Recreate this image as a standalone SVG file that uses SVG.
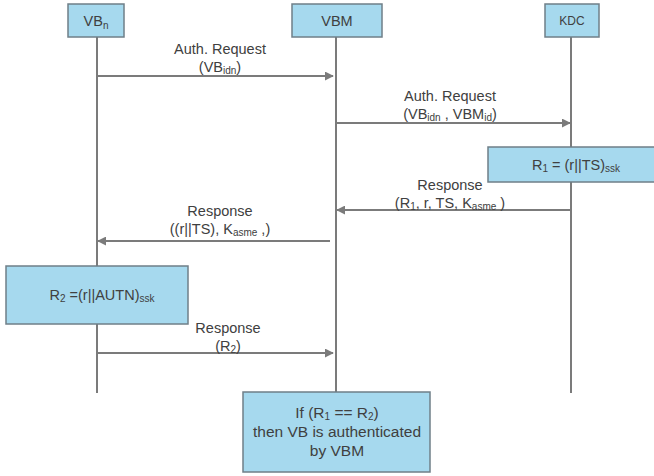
<svg xmlns="http://www.w3.org/2000/svg" width="654" height="476" viewBox="0 0 654 476">
<defs>
<style>
.box{fill:#a6d9ee;stroke:#6f7f88;stroke-width:1.5}
.life{stroke:#7b7b7b;stroke-width:2;fill:none}
.msg{stroke:#7b7b7b;stroke-width:2;fill:none;marker-end:url(#ah)}
text{font-family:"Liberation Sans",Arial,sans-serif;fill:#404040;text-anchor:middle}
.lbl{font-size:14.5px}
.big{font-size:15.5px}
.sub{font-size:10px}
</style>
<marker id="ah" viewBox="0 0 10 10" refX="9" refY="5" markerWidth="4.5" markerHeight="4.5" orient="auto" markerUnits="strokeWidth">
<path d="M0,0 L10,5 L0,10 z" fill="#7b7b7b"/>
</marker>
</defs>
<rect width="654" height="476" fill="#ffffff"/>
<g id="lifelines">
<line class="life" x1="97" y1="37" x2="97" y2="393"/>
<line class="life" x1="336" y1="37" x2="336" y2="393"/>
<line class="life" x1="571" y1="37" x2="571" y2="393"/>
</g>
<g id="node-vbn">
<rect class="box" x="68" y="4" width="56" height="33"/>
<text class="lbl" x="96" y="26" font-size="15">VB<tspan class="sub" dy="3">n</tspan></text>
</g>
<g id="node-vbm">
<rect class="box" x="292" y="4" width="90" height="33"/>
<text class="lbl" x="337" y="26">VBM</text>
</g>
<g id="node-kdc">
<rect class="box" x="545" y="4" width="54" height="33"/>
<text x="572" y="25" font-size="12">KDC</text>
</g>
<g id="connectors">
<line class="msg" x1="97" y1="76" x2="333" y2="76"/>
<line class="msg" x1="336" y1="123" x2="570" y2="123"/>
<line class="msg" x1="570" y1="210" x2="337" y2="210"/>
<line class="msg" x1="330" y1="241" x2="98" y2="241"/>
<line class="msg" x1="98" y1="353" x2="333" y2="353"/>
</g>
<g id="labels">
<text class="lbl" x="220" y="54">Auth. Request</text>
<text class="lbl" x="220" y="72">(VB<tspan class="sub" dy="2">idn</tspan><tspan dy="-2">)</tspan></text>
<text class="lbl" x="450" y="101">Auth. Request</text>
<text class="lbl" x="450" y="119">(VB<tspan class="sub" dy="2">idn</tspan><tspan dy="-2"> , VBM</tspan><tspan class="sub" dy="2">id</tspan><tspan dy="-2">)</tspan></text>
<text class="lbl" x="450" y="190">Response</text>
<text class="lbl" x="450" y="208">(R<tspan class="sub" dy="2">1</tspan><tspan dy="-2">, r, TS,  K</tspan><tspan class="sub" dy="2">asme</tspan><tspan dy="-2"> )</tspan></text>
<text class="lbl" x="220" y="216">Response</text>
<text class="lbl" x="220" y="234">((r||TS), K<tspan class="sub" dy="2">asme</tspan><tspan dy="-2"> ,)</tspan></text>
<text class="lbl" x="228" y="333">Response</text>
<text class="lbl" x="228" y="351">(R<tspan class="sub" dy="2">2</tspan><tspan dy="-2">)</tspan></text>
</g>
<g id="node-r1">
<rect class="box" x="488" y="147" width="170" height="35"/>
<text class="lbl" x="576" y="170">R<tspan class="sub" dy="2">1</tspan><tspan dy="-2"> = (r||TS)</tspan><tspan class="sub" dy="2">ssk</tspan></text>
</g>
<g id="node-r2">
<rect class="box" x="6" y="266" width="182" height="58"/>
<text class="lbl" x="102" y="300">R<tspan class="sub" dy="2">2</tspan><tspan dy="-2"> =(r||AUTN)</tspan><tspan class="sub" dy="2">ssk</tspan></text>
</g>
<g id="node-check">
<rect class="box" x="243" y="392" width="187" height="80"/>
<text class="big" x="337" y="418">If (R<tspan class="sub" dy="2">1</tspan><tspan dy="-2"> == R</tspan><tspan class="sub" dy="2">2</tspan><tspan dy="-2">)</tspan></text>
<text class="big" x="337" y="437">then VB is authenticated</text>
<text class="big" x="337" y="456">by VBM</text>
</g>
</svg>
